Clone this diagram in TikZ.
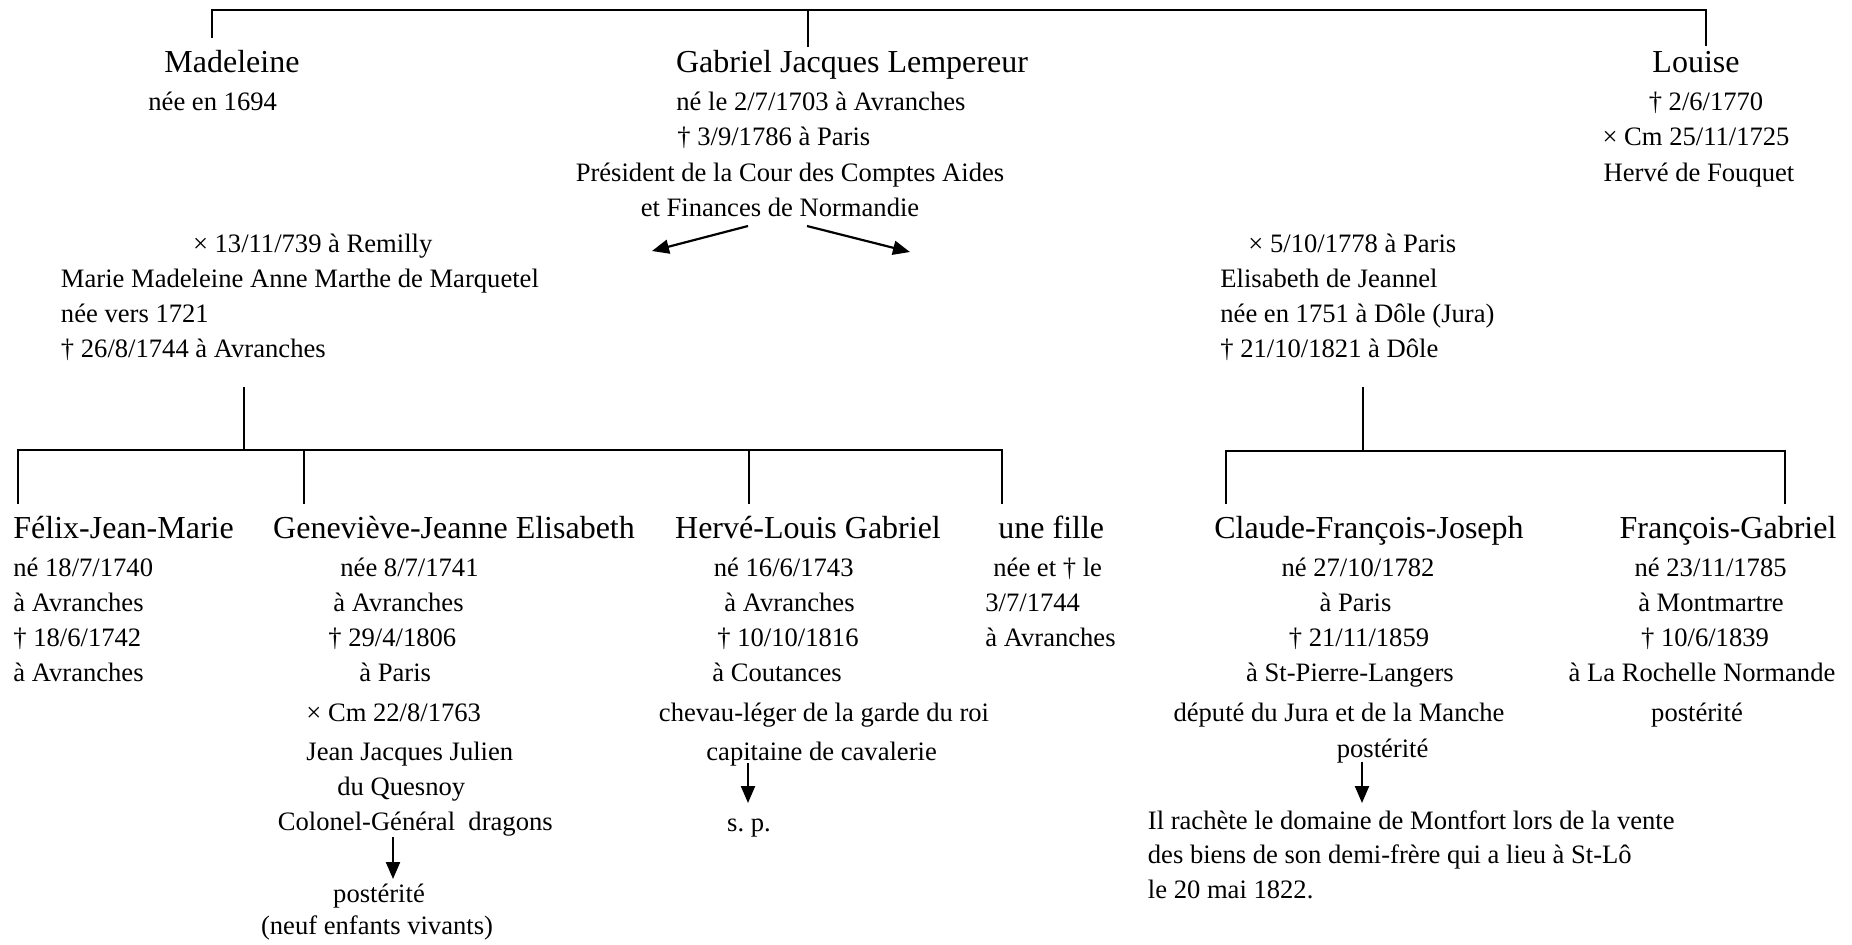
\documentclass[tikz,border=0pt]{standalone}
\usepackage{fontspec}
\setmainfont{Liberation Serif}
\usetikzlibrary{arrows.meta}

\tikzset{
  pname/.style={font=\fontsize{16}{19}\selectfont, inner sep=0pt, anchor=base},
  ptext/.style={font=\fontsize{13.3}{16}\selectfont, inner sep=0pt, anchor=base},
  ptextl/.style={ptext, anchor=base west},
  branch/.style={line width=0.8pt},
  arr/.style={line width=1.1pt, -{Triangle[length=8.5pt,width=7pt]}},
}

\begin{document}
\begin{tikzpicture}[x=0.5pt, y=-0.5pt]
    \useasboundingbox (0,0) rectangle (1852,944);

    % top generation
    \coordinate (topbar) at (0,10);
    \coordinate (madTop) at (212,38);
    \coordinate (gabTop) at (808,47);
    \coordinate (louTop) at (1706,46);
    \draw[branch] (madTop) |- (topbar -| louTop) -- (louTop);
    \draw[branch] (gabTop) -- (gabTop |- topbar);

    \node[pname] (mad) at (232,72.5) {Madeleine};
    \node[ptextl] (mad1) at (148,110) {née en 1694};

    \node[pname] (gab) at (852,72.5) {Gabriel Jacques Lempereur};
    \node[ptextl] (gab1) at (676,110) {né le 2/7/1703 à Avranches};
    \node[ptextl] (gab2) at (677,145) {† 3/9/1786 à Paris};
    \node[ptext] (gab3) at (790,181) {Président de la Cour des Comptes Aides};
    \node[ptext] (gab4) at (780,216) {et Finances de Normandie};

    \node[pname] (lou) at (1696,72.5) {Louise};
    \node[ptext] (lou1) at (1706,110) {† 2/6/1770};
    \node[ptext] (lou2) at (1696,145) {× Cm 25/11/1725};
    \node[ptext] (lou3) at (1699,181) {Hervé de Fouquet};

    % two marriages
    \coordinate (gabL) at (748,226);
    \coordinate (mar1) at (652,251);
    \coordinate (gabR) at (807,226);
    \coordinate (mar2) at (910,252);
    \draw[arr] (gabL) -- (mar1);
    \draw[arr] (gabR) -- (mar2);

    \node[ptextl] (ma1) at (192.6,252) {× 13/11/739 à Remilly};
    \node[ptextl] (ma2) at (60.6,287) {Marie Madeleine Anne Marthe de Marquetel};
    \node[ptextl] (ma3) at (60.6,322) {née vers 1721};
    \node[ptextl] (ma4) at (60.6,357) {† 26/8/1744 à Avranches};

    \node[ptextl] (el1) at (1248,252) {× 5/10/1778 à Paris};
    \node[ptextl] (el2) at (1220,287) {Elisabeth de Jeannel};
    \node[ptextl] (el3) at (1220,322) {née en 1751 à Dôle (Jura)};
    \node[ptextl] (el4) at (1220,357) {† 21/10/1821 à Dôle};

    % children of the first marriage
    \coordinate (famL) at (244,387);
    \coordinate (barL) at (0,450);
    \coordinate (felTop) at (18,504);
    \coordinate (genTop) at (304,504);
    \coordinate (herTop) at (749,504);
    \coordinate (filTop) at (1002,504);
    \draw[branch] (famL) -- (famL |- barL);
    \draw[branch] (felTop) |- (barL -| filTop) -- (filTop);
    \draw[branch] (genTop) -- (genTop |- barL);
    \draw[branch] (herTop) -- (herTop |- barL);

    \node[pname, anchor=base west] (fel) at (13,538) {Félix-Jean-Marie};
    \node[ptextl] (fel1) at (13,576) {né 18/7/1740};
    \node[ptextl] (fel2) at (13,611) {à Avranches};
    \node[ptextl] (fel3) at (13,646) {† 18/6/1742};
    \node[ptextl] (fel4) at (13,681) {à Avranches};

    \node[pname] (gen) at (454,538) {Geneviève-Jeanne Elisabeth};
    \node[ptextl] (gen1) at (340,576) {née 8/7/1741};
    \node[ptextl] (gen2) at (333,611) {à Avranches};
    \node[ptextl] (gen3) at (328,646) {† 29/4/1806};
    \node[ptextl] (gen4) at (359,681) {à Paris};
    \node[ptextl] (gen5) at (306,721) {× Cm 22/8/1763};
    \node[ptextl] (gen6) at (306,760) {Jean Jacques Julien};
    \node[ptextl] (gen7) at (337,795) {du Quesnoy};
    \node[ptextl] (gen8) at (277.5,830) {Colonel-Général~ dragons};
    \coordinate (genA) at (393,837);
    \coordinate (genB) at (393,879);
    \draw[arr] (genA) -- (genB);
    \node[ptext] (gen9) at (379,902) {postérité};
    \node[ptext] (gen10) at (377,934) {(neuf enfants vivants)};

    \node[pname] (her) at (808,538) {Hervé-Louis Gabriel};
    \node[ptextl] (her1) at (713.5,576) {né 16/6/1743};
    \node[ptextl] (her2) at (724,611) {à Avranches};
    \node[ptextl] (her3) at (717,646) {† 10/10/1816};
    \node[ptextl] (her4) at (712,681) {à Coutances};
    \node[ptext] (her5) at (824,721) {chevau-léger de la garde du roi};
    \node[ptext] (her6) at (821.6,760) {capitaine de cavalerie};
    \coordinate (herA) at (748,763);
    \coordinate (herB) at (748,803);
    \draw[arr] (herA) -- (herB);
    \node[ptext] (her7) at (749,831) {s.\ p.};

    \node[pname, anchor=base west] (fil) at (998,538) {une fille};
    \node[ptextl] (fil1) at (993,576) {née et † le};
    \node[ptextl] (fil2) at (985,611) {3/7/1744};
    \node[ptextl] (fil3) at (985,646) {à Avranches};

    % children of the second marriage
    \coordinate (famR) at (1363,387);
    \coordinate (barR) at (0,451);
    \coordinate (claTop) at (1226,504);
    \coordinate (fraTop) at (1785,504);
    \draw[branch] (famR) -- (famR |- barR);
    \draw[branch] (claTop) |- (barR -| fraTop) -- (fraTop);

    \node[pname] (cla) at (1369,538) {Claude-François-Joseph};
    \node[ptext] (cla1) at (1358,576) {né 27/10/1782};
    \node[ptext] (cla2) at (1355.5,611) {à Paris};
    \node[ptext] (cla3) at (1359,646) {† 21/11/1859};
    \node[ptext] (cla4) at (1350,681) {à St-Pierre-Langers};
    \node[ptext] (cla5) at (1339,721) {député du Jura et de la Manche};
    \node[ptext] (cla6) at (1382.6,757.5) {postérité};
    \coordinate (claA) at (1362,762);
    \coordinate (claB) at (1362,803);
    \draw[arr] (claA) -- (claB);
    \node[ptextl] (cla7) at (1147.5,829.6) {Il rachète le domaine de Montfort lors de la vente};
    \node[ptextl] (cla8) at (1147.5,863.8) {des biens de son demi-frère qui a lieu à St-Lô};
    \node[ptextl] (cla9) at (1147.5,898) {le 20 mai 1822.};

    \node[pname] (fra) at (1728,538) {François-Gabriel};
    \node[ptext] (fra1) at (1710.6,576) {né 23/11/1785};
    \node[ptext] (fra2) at (1711,611) {à Montmartre};
    \node[ptext] (fra3) at (1705,646) {† 10/6/1839};
    \node[ptext] (fra4) at (1702,681) {à La Rochelle Normande};
    \node[ptext] (fra5) at (1697,721) {postérité};
\end{tikzpicture}
\end{document}
